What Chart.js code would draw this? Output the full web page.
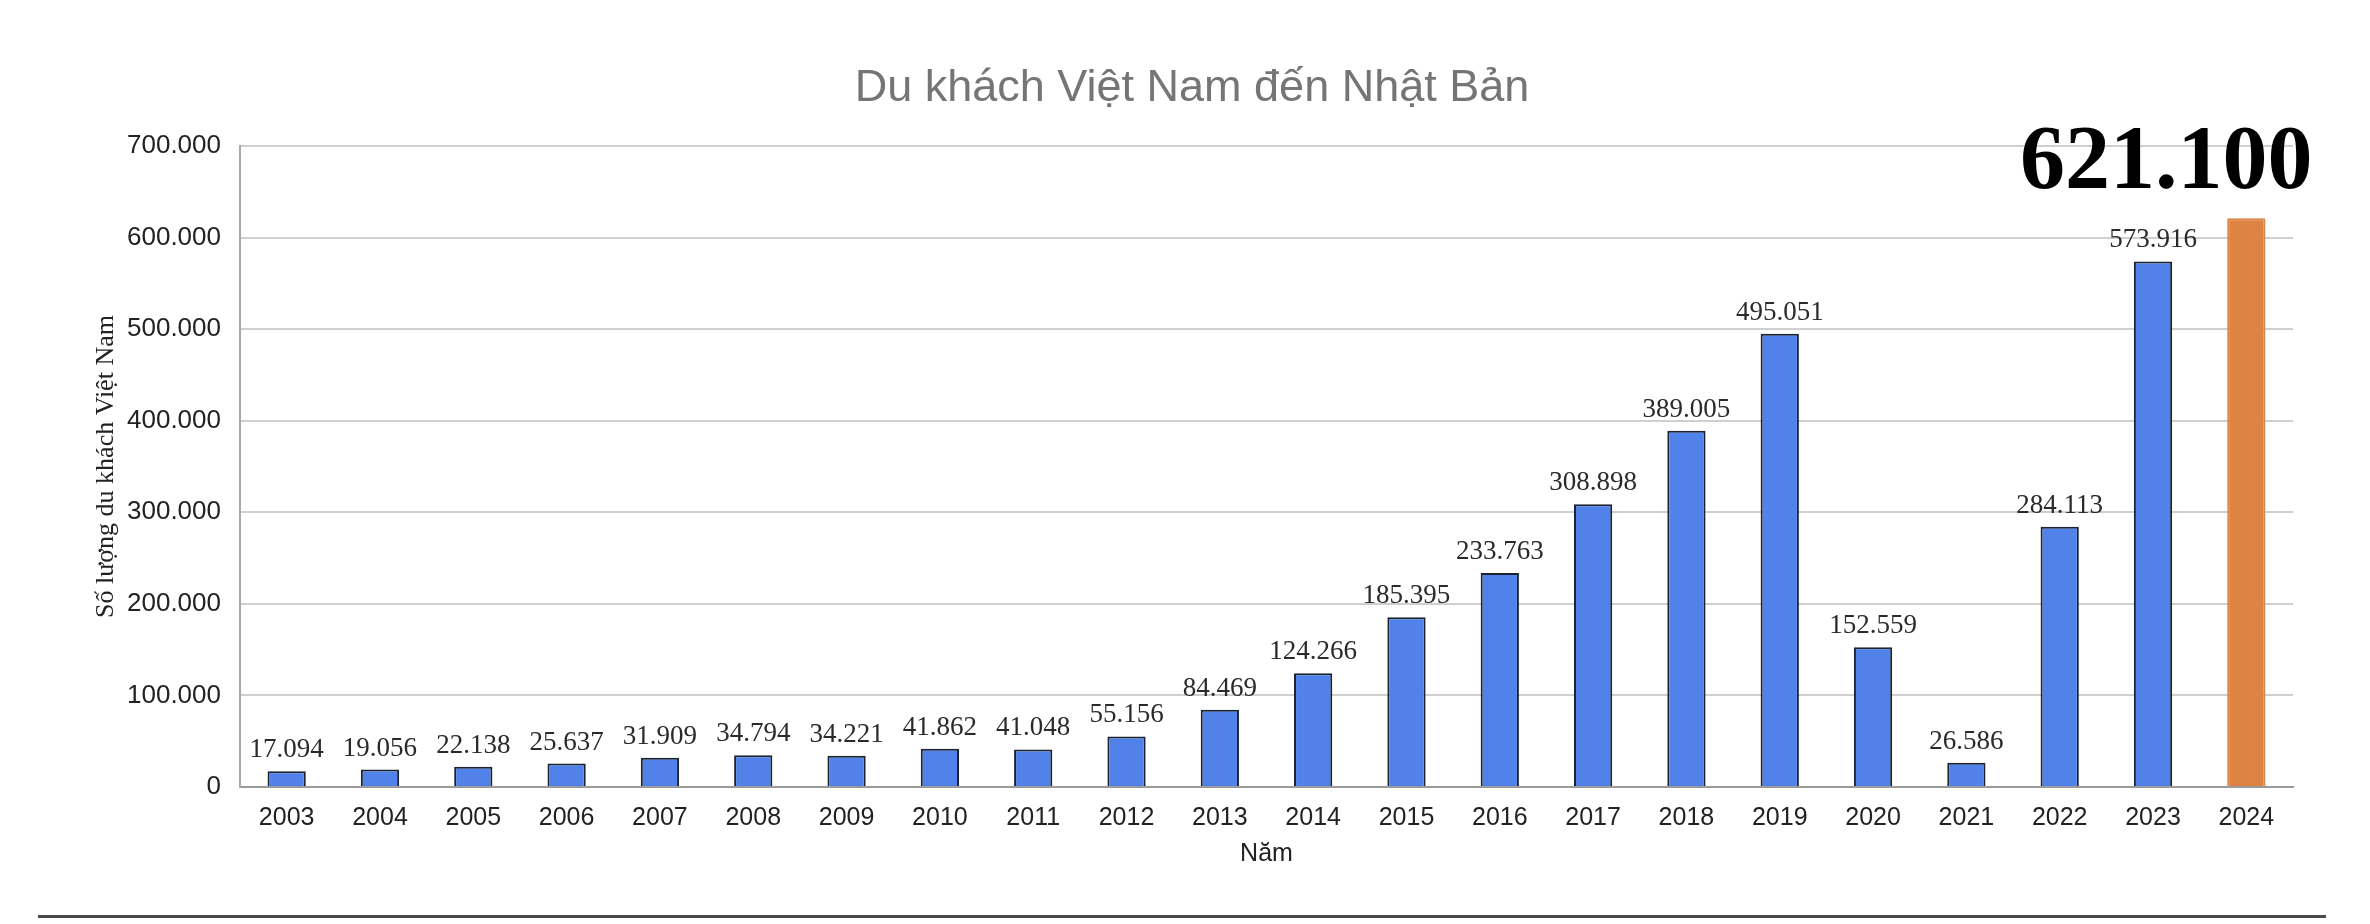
<!DOCTYPE html>
<html>
<head>
<meta charset="utf-8">
<script src="https://cdn.jsdelivr.net/npm/chart.js@4"></script>
<style>
  html, body { margin: 0; padding: 0; background: #fff; }
  #wrap { position: relative; width: 2370px; height: 924px; }
  #rule { position: absolute; left: 38px; top: 915px; width: 2288px; height: 3px; background: #4a4a4a; }
</style>
</head>
<body>
<div id="wrap">
  <canvas id="chart" width="2370" height="924"></canvas>
  <div id="rule"></div>
</div>
<script>
const years = ['2003', '2004', '2005', '2006', '2007', '2008', '2009', '2010', '2011', '2012', '2013',
               '2014', '2015', '2016', '2017', '2018', '2019', '2020', '2021', '2022', '2023', '2024'];
const visitors = [17094, 19056, 22138, 25637, 31909, 34794, 34221, 41862, 41048, 55156, 84469,
                  124266, 185395, 233763, 308898, 389005, 495051, 152559, 26586, 284113, 573916, 621100];
const yTicks = [0, 100000, 200000, 300000, 400000, 500000, 600000, 700000];
const highlightYear = '2024';

// 17094 -> "17.094"
const fmt = v => String(v).replace(/\B(?=(\d{3})+(?!\d))/g, '.');

const hi = years.indexOf(highlightYear);
const fills = years.map((y, i) => i === hi ? '#dd8344' : '#5082ea');
const borders = years.map((y, i) => i === hi ? '#dd8344' : '#1c2330');

//==== value labels above bars ====//
const valueLabels = {
    id: 'valueLabels',
    afterDatasetsDraw(chart) {
        const ctx = chart.ctx;
        const meta = chart.getDatasetMeta(0);
        ctx.save();
        ctx.textAlign = 'center';
        ctx.textBaseline = 'alphabetic';
        meta.data.forEach((bar, i) => {
            const v = chart.data.datasets[0].data[i];
            if (i === hi) {
                ctx.font = 'bold 90px "Liberation Serif", "Times New Roman", serif';
                ctx.fillStyle = '#000';
                ctx.fillText(fmt(v), bar.x - 80, bar.y - 30);
            } else {
                ctx.font = '27px "Liberation Serif", "Times New Roman", serif';
                ctx.fillStyle = '#2a2a2a';
                ctx.fillText(fmt(v), bar.x, bar.y - 14);
            }
        });
        ctx.restore();
    }
};

new Chart(document.querySelector('#chart').getContext('2d'), {
    type: 'bar',
    data: {
        labels: years,
        datasets: [{
            label: 'Du khách Việt Nam',
            data: visitors,
            backgroundColor: fills,
            borderColor: borders,
            borderWidth: 2,
            barPercentage: 0.41,
            categoryPercentage: 1
        }]
    },
    options: {
        responsive: false,
        animation: false,
        layout: { padding: { left: 91, right: 77, top: 0, bottom: 55 } },
        plugins: {
            legend: { display: false },
            tooltip: { enabled: false },
            title: {
                display: true,
                text: 'Du khách Việt Nam đến Nhật Bản',
                color: '#757575',
                font: { family: 'Liberation Sans, Arial, sans-serif', size: 45, weight: 'normal' },
                padding: { top: 62, bottom: 30 }
            }
        },
        scales: {
            x: {
                afterFit: s => { s.height = 82; },
                grid: { display: false, drawTicks: false },
                border: { display: true, color: '#9a9a9a', width: 2 },
                ticks: {
                    color: '#222',
                    padding: 16,
                    font: { family: 'Liberation Sans, Arial, sans-serif', size: 25 }
                },
                title: {
                    display: true,
                    text: 'Năm',
                    color: '#222',
                    padding: { top: 0, bottom: 0 },
                    font: { family: 'Liberation Sans, Arial, sans-serif', size: 25 }
                }
            },
            y: {
                min: 0,
                max: yTicks[yTicks.length - 1],
                afterBuildTicks: s => { s.ticks = yTicks.map(v => ({ value: v })); },
                afterFit: s => { s.width = 149; },
                grid: { color: '#cfcfcf', lineWidth: 2, drawTicks: false },
                border: { display: true, color: '#a8a8a8', width: 2 },
                ticks: {
                    color: '#222',
                    padding: 19,
                    font: { family: 'Liberation Sans, Arial, sans-serif', size: 26 },
                    callback: v => fmt(v)
                },
                title: {
                    display: true,
                    text: 'Số lượng du khách Việt Nam',
                    color: '#222',
                    padding: { top: 0, bottom: 0 },
                    font: { family: '"Liberation Serif", "Times New Roman", serif', size: 26 }
                }
            }
        }
    },
    plugins: [valueLabels]
});
</script>
</body>
</html>
